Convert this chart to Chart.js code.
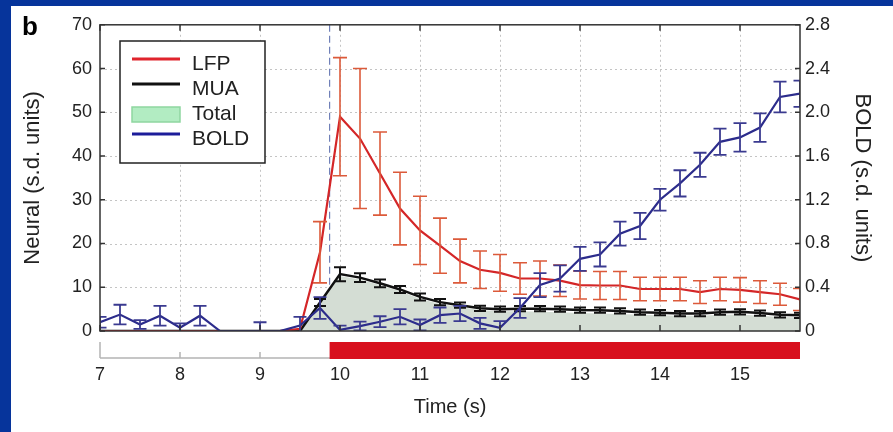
<!DOCTYPE html>
<html><head><meta charset="utf-8">
<script src="https://cdn.jsdelivr.net/npm/chart.js@4.4.1/dist/chart.umd.min.js"></script>
<style>
html,body{margin:0;padding:0;background:#06349b;width:893px;height:432px;overflow:hidden;}
#wrap{position:absolute;left:11px;top:6px;width:882px;height:426px;background:#fff;}
canvas{display:block;}
</style></head><body>
<div id="wrap"><canvas id="c" width="882" height="426"></canvas></div>
<script>
// ---- data ----
const timeSec = [7,7.25,7.5,7.75,8,8.25,8.5,8.75,9,9.25,9.5,9.75,10,10.25,10.5,10.75,11,11.25,11.5,11.75,12,12.25,12.5,12.75,13,13.25,13.5,13.75,14,14.25,14.5,14.75,15,15.25,15.5,15.75];
const lfpValues = [0,0,0,0,0,0,0,0,0,0,0.5,18,49,44,36,28,23,19.5,16,14,13.3,12,12,11.5,10.5,10.4,10.4,9.6,9.6,9.6,8.9,9.6,9.4,8.9,8.4,7.2];
const lfpErrors = [0,0,0,0,0,0,0,0,0,0,0,7,13.5,16,9.5,8.3,7.8,6.3,5,4.3,4.2,3.6,4,3.6,3.2,3.2,3.2,2.7,2.7,2.7,2.6,2.7,2.8,2.6,2.5,2.5];
const muaValues = [0,0,0,0,0,0,0,0,0,0,0,6.5,13,12.2,10.9,9.5,7.8,6.6,5.9,5.2,5.0,5.1,5.1,5.0,4.8,4.75,4.6,4.3,4.2,4.0,4.0,4.3,4.4,4.1,3.7,3.6];
const muaErrors = [0,0,0,0,0,0,0,0,0,0,0,0.8,1.6,1,0.9,0.8,0.8,0.7,0.6,0.6,0.6,0.6,0.6,0.6,0.6,0.6,0.6,0.6,0.6,0.6,0.6,0.6,0.6,0.6,0.6,0.6];
const totalValues = [0,0,0,0,0,0,0,0,0,0,0,6.3,12.6,11.8,10.5,9.1,7.4,6.2,5.5,4.8,4.5,4.5,4.4,4.3,4.1,4.0,3.9,3.7,3.6,3.5,3.5,3.7,3.8,3.5,3.2,3.1];
const boldValues = [0.08,0.15,0.06,0.14,0.03,0.14,0,0,0,0,0.05,0.21,0.01,0.045,0.085,0.13,0.055,0.145,0.16,0.07,0.03,0.21,0.42,0.48,0.66,0.70,0.89,0.96,1.2,1.35,1.52,1.73,1.77,1.86,2.14,2.17];
const boldErrors = [0.05,0.09,0.04,0.09,0.04,0.09,0,0,0.08,0,0.08,0.1,0.04,0.04,0.05,0.07,0.05,0.07,0.07,0.05,0.06,0.09,0.11,0.12,0.11,0.11,0.11,0.12,0.1,0.12,0.11,0.12,0.13,0.13,0.14,0.12];
const xTickValues = [7,8,9,10,11,12,13,14,15];
const neuralTicks = [0,10,20,30,40,50,60,70];
const boldTicks = [0,0.4,0.8,1.2,1.6,2.0,2.4,2.8];
const timeMin = 7, timeMax = 15.75;
const stimulusOnset = 9.87;
const seriesLabels = ['Total','MUA','LFP','BOLD'];
const legendOrder = ['LFP','MUA','Total','BOLD'];

const FONT = '"Liberation Sans", Arial, Helvetica, sans-serif';
Chart.defaults.font.family = FONT;
const TXT = '#222';

const pts = vals => timeSec.map((t,i)=>({x:t,y:vals[i]}));

const errorBars = {
  id:'errorBars',
  afterDatasetDraw(chart, args){
    const ds = chart.data.datasets[args.index];
    if(!ds.errors) return;
    const ys = chart.scales[ds.yAxisID];
    const ca = chart.chartArea, ctx = chart.ctx;
    ctx.save();
    ctx.beginPath(); ctx.rect(ca.left, ca.top, ca.right-ca.left, ca.bottom-ca.top); ctx.clip();
    ctx.strokeStyle = ds.errColor; ctx.lineWidth = ds.errWidth;
    args.meta.data.forEach((el,i)=>{
      const e = ds.errors[i]; if(!e) return;
      const v = ds.data[i].y;
      const x = el.x, y1 = ys.getPixelForValue(v+e), y2 = ys.getPixelForValue(v-e);
      const w = ds.capW/2;
      ctx.beginPath();
      ctx.moveTo(x,y1); ctx.lineTo(x,y2);
      ctx.moveTo(x-w,y1); ctx.lineTo(x+w,y1);
      ctx.moveTo(x-w,y2); ctx.lineTo(x+w,y2);
      ctx.stroke();
    });
    ctx.restore();
  }
};

const decor = {
  id:'decor',
  beforeDatasetsDraw(chart){
    const {ctx, chartArea:ca, scales} = chart;
    ctx.save();
    ctx.strokeStyle = '#c4c4c4'; ctx.lineWidth = 1; ctx.setLineDash([2,3]);
    xTickValues.forEach(v=>{
      const x = Math.round(scales.x.getPixelForValue(v))+0.5;
      if(x<=ca.left+1||x>=ca.right-1) return;
      ctx.beginPath(); ctx.moveTo(x,ca.top); ctx.lineTo(x,ca.bottom); ctx.stroke();
    });
    neuralTicks.forEach(v=>{
      const y = Math.round(scales.y.getPixelForValue(v))+0.5;
      if(y<=ca.top+1||y>=ca.bottom-1) return;
      ctx.beginPath(); ctx.moveTo(ca.left,y); ctx.lineTo(ca.right,y); ctx.stroke();
    });
    const sx = scales.x.getPixelForValue(stimulusOnset);
    ctx.strokeStyle = '#7080b8'; ctx.lineWidth = 1.2; ctx.setLineDash([7,4]);
    ctx.beginPath(); ctx.moveTo(sx,ca.top); ctx.lineTo(sx,ca.bottom); ctx.stroke();
    ctx.restore();
  },
  afterDatasetsDraw(chart){
    const {ctx, chartArea:ca, scales} = chart;
    ctx.save();
    ctx.strokeStyle = '#333'; ctx.lineWidth = 1.5; ctx.setLineDash([]);
    ctx.strokeRect(ca.left, ca.top, ca.right-ca.left, ca.bottom-ca.top);
    ctx.beginPath();
    xTickValues.forEach(v=>{
      const x = scales.x.getPixelForValue(v);
      ctx.moveTo(x,ca.top); ctx.lineTo(x,ca.top+6);
      ctx.moveTo(x,ca.bottom); ctx.lineTo(x,ca.bottom-6);
    });
    neuralTicks.forEach(v=>{
      const y = scales.y.getPixelForValue(v);
      ctx.moveTo(ca.left,y); ctx.lineTo(ca.left+5,y);
    });
    boldTicks.forEach(v=>{
      const y = scales.y2.getPixelForValue(v);
      ctx.moveTo(ca.right,y); ctx.lineTo(ca.right-5,y);
    });
    ctx.stroke();
    ctx.restore();
  },
  afterDraw(chart){
    const {ctx, chartArea:ca, scales} = chart;
    ctx.save();
    const base = ca.bottom + 27, barTop = ca.bottom + 11;
    const x0 = scales.x.getPixelForValue(timeMin), x1 = scales.x.getPixelForValue(timeMax);
    ctx.strokeStyle = '#b4b4b4'; ctx.lineWidth = 1.5;
    ctx.beginPath(); ctx.moveTo(x0,base); ctx.lineTo(x1,base);
    ctx.moveTo(x0,base); ctx.lineTo(x0,barTop);
    xTickValues.forEach(v=>{ const x=scales.x.getPixelForValue(v); ctx.moveTo(x,base); ctx.lineTo(x,base-6); });
    ctx.stroke();
    const sx = scales.x.getPixelForValue(stimulusOnset);
    ctx.fillStyle = '#d8101e';
    ctx.fillRect(sx, barTop, x1-sx, base-barTop+1);
    ctx.fillStyle = '#000'; ctx.font = 'bold 26px '+FONT; ctx.textBaseline='alphabetic'; ctx.textAlign='left';
    ctx.fillText('b', 11, 29);
    const lx=109, ly=35, lw=145, lh=122;
    ctx.fillStyle='#fff'; ctx.fillRect(lx,ly,lw,lh);
    ctx.strokeStyle='#222'; ctx.lineWidth=1.5; ctx.strokeRect(lx,ly,lw,lh);
    const rows = [53,78,108,128], base2 = [64,89,114,139];
    ctx.font = '21px '+FONT;
    legendOrder.forEach((lab,k)=>{
      const ds = chart.data.datasets.find(d=>d.label===lab);
      if(lab==='Total'){
        ctx.fillStyle='#b2ecc2'; ctx.fillRect(121,101,48,15);
        ctx.strokeStyle='#8fd6a0'; ctx.lineWidth=1.5; ctx.strokeRect(121,101,48,15);
      } else {
        ctx.strokeStyle = ds.legendColor; ctx.lineWidth=3;
        ctx.beginPath(); ctx.moveTo(121,rows[k]); ctx.lineTo(169,rows[k]); ctx.stroke();
      }
      ctx.fillStyle = TXT; ctx.fillText(lab, 181, base2[k]);
    });
    ctx.restore();
  }
};

const ctx = document.getElementById('c').getContext('2d');
new Chart(ctx, {
  type:'line',
  data:{datasets:[
    {label:seriesLabels[0], data:pts(totalValues), yAxisID:'y', fill:'origin', backgroundColor:'#d4ddd4', borderWidth:0, borderColor:'rgba(0,0,0,0)', pointRadius:0, order:4},
    {label:seriesLabels[1], data:pts(muaValues), yAxisID:'y', borderColor:'#111', legendColor:'#111', borderWidth:2.5, pointRadius:0, fill:false, errors:muaErrors, errColor:'#111', errWidth:2, capW:12, order:3},
    {label:seriesLabels[2], data:pts(lfpValues), yAxisID:'y', borderColor:'#d42628', legendColor:'#e0242c', borderWidth:2.2, pointRadius:0, fill:false, errors:lfpErrors, errColor:'#dc5a3a', errWidth:1.6, capW:14, order:2},
    {label:seriesLabels[3], data:pts(boldValues), yAxisID:'y2', borderColor:'#2c2c8c', legendColor:'#1c1c9a', borderWidth:2.2, pointRadius:0, fill:false, errors:boldErrors, errColor:'#3a3a90', errWidth:1.8, capW:13, order:1}
  ]},
  options:{
    responsive:false, animation:false, devicePixelRatio:1,
    layout:{padding:{top:16,left:0,right:0,bottom:0}},
    plugins:{legend:{display:false}, tooltip:{enabled:false}},
    elements:{line:{tension:0}},
    scales:{
      x:{type:'linear', min:timeMin, max:timeMax, position:'bottom',
        afterFit:s=>{s.height=101;},
        afterBuildTicks:s=>{s.ticks=xTickValues.map(v=>({value:v}));},
        grid:{display:false, drawTicks:false}, border:{display:false},
        ticks:{padding:33, font:{size:18}, color:TXT, maxRotation:0, autoSkip:false, callback:v=>String(v)},
        title:{display:true, text:'Time (s)', font:{size:20}, color:TXT, padding:{top:0,bottom:13}}},
      y:{type:'linear', position:'left', min:0, max:70,
        afterFit:s=>{s.width=89;},
        afterBuildTicks:s=>{s.ticks=neuralTicks.map(v=>({value:v}));},
        grid:{display:false, drawTicks:false}, border:{display:false},
        ticks:{padding:8, font:{size:18}, color:TXT, callback:v=>String(v)},
        title:{display:true, text:'Neural (s.d. units)', font:{size:22}, color:TXT, padding:{top:9,bottom:0}}},
      y2:{type:'linear', position:'right', min:0, max:2.8,
        afterFit:s=>{s.width=93;},
        afterBuildTicks:s=>{s.ticks=boldTicks.map(v=>({value:v}));},
        grid:{display:false, drawTicks:false}, border:{display:false},
        ticks:{padding:5, font:{size:18}, color:TXT, callback:v=>v===0?'0':v.toFixed(1)},
        title:{display:true, text:'BOLD (s.d. units)', font:{size:22}, color:TXT, padding:{top:18,bottom:0}}}
    }
  },
  plugins:[errorBars, decor]
});
</script>
</body></html>
